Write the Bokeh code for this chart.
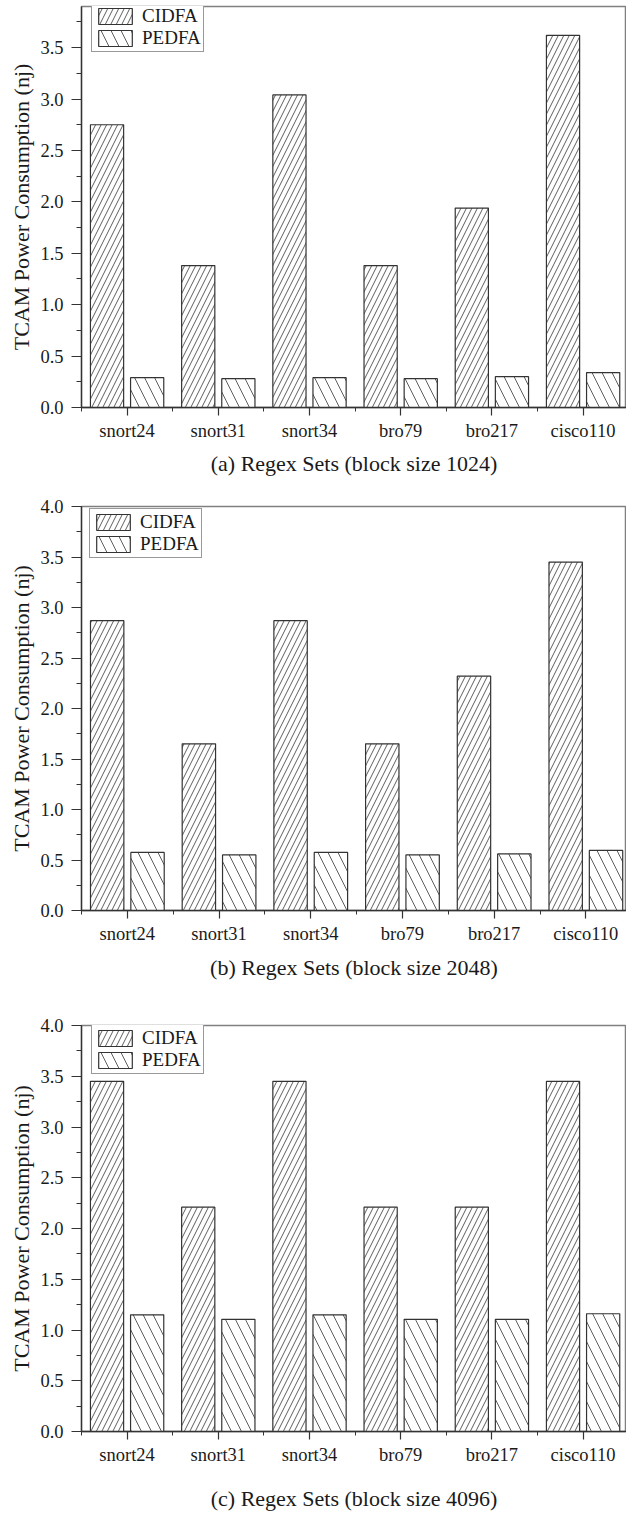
from bokeh.plotting import figure
from bokeh.models import (FixedTicker, SingleIntervalTicker, PrintfTickFormatter,
                          Range1d, Legend, LegendItem, ColumnDataSource)
from bokeh.layouts import column
from bokeh.embed import file_html
from bokeh.resources import INLINE
from bokeh.transform import dodge

categories = ["snort24", "snort31", "snort34", "bro79", "bro217", "cisco110"]
series_names = ["CIDFA", "PEDFA"]

cidfa_1024 = [2.75, 1.38, 3.04, 1.38, 1.94, 3.62]
pedfa_1024 = [0.29, 0.28, 0.29, 0.28, 0.30, 0.34]
cidfa_2048 = [2.87, 1.65, 2.87, 1.65, 2.32, 3.45]
pedfa_2048 = [0.575, 0.55, 0.575, 0.55, 0.56, 0.595]
cidfa_4096 = [3.45, 2.21, 3.45, 2.21, 2.21, 3.45]
pedfa_4096 = [1.15, 1.105, 1.15, 1.105, 1.105, 1.16]

captions = ["(a) Regex Sets (block size 1024)",
            "(b) Regex Sets (block size 2048)",
            "(c) Regex Sets (block size 4096)"]
y_label = "TCAM Power Consumption (nj)"
y_max = [3.9, 4.0, 4.0]

FONT = "'Liberation Serif', 'Times New Roman', serif"
DARK = "#333333"

# layout: (height, border_left, border_top, border_bottom, legend_left, legend_top, caption_standoff)
layouts = [
    (488, 78, 6, 81, 10, 0, 7),
    (512, 81, 18, 90, 8, 6, 8),
    (513, 78, 25, 81, 10, 4, 18),
]
PX_PER_CAT = 91.7
WIDTH = 626
LEGEND_H = 46


def make_panel(cidfa, pedfa, caption, ymax, lay):
    height, bl, bt, bb, lg_left, lg_top, cap_sd = lay
    frame_w = WIDTH - bl
    frame_h = height - bt - bb
    xs = [i + 1 for i in range(len(categories))]
    src = ColumnDataSource(dict(x=xs, cidfa=cidfa, pedfa=pedfa, cat=categories))
    p = figure(width=WIDTH, height=height,
               x_range=Range1d(0.5, 0.5 + frame_w / PX_PER_CAT),
               y_range=Range1d(0, ymax),
               output_backend="svg", toolbar_location=None,
               min_border_left=bl, min_border_right=0,
               min_border_top=bt, min_border_bottom=bb)
    p.xgrid.visible = False
    p.ygrid.visible = False
    p.outline_line_color = "#808080"
    p.outline_line_width = 1.5
    p.background_fill_color = "white"

    r1 = p.vbar(x=dodge("x", -0.22), top="cidfa", width=0.364, bottom=0, source=src,
                fill_color="white", line_color=DARK, line_width=1.2,
                hatch_pattern="/", hatch_scale=11, hatch_weight=0.8, hatch_color=DARK)
    r2 = p.vbar(x=dodge("x", 0.22), top="pedfa", width=0.364, bottom=0, source=src,
                fill_color="white", line_color=DARK, line_width=1.2,
                hatch_pattern="\\", hatch_scale=20, hatch_weight=0.8, hatch_color=DARK)

    # x axis
    xa = p.xaxis[0]
    xa.ticker = FixedTicker(ticks=xs, minor_ticks=[x - 0.5 for x in xs] + [xs[-1] + 0.5])
    xa.major_label_overrides = {x: c for x, c in zip(xs, categories)}
    xa.major_tick_out = 8
    xa.major_tick_in = 0
    xa.minor_tick_out = 4
    xa.minor_tick_in = 0
    xa.major_label_standoff = 5
    xa.axis_label = caption
    xa.axis_label_standoff = cap_sd

    # y axis
    ya = p.yaxis[0]
    ya.ticker = SingleIntervalTicker(interval=0.5, num_minor_ticks=2)
    ya.formatter = PrintfTickFormatter(format="%.1f")
    ya.major_tick_out = 10
    ya.major_tick_in = 0
    ya.minor_tick_out = 5
    ya.minor_tick_in = 0
    ya.major_label_standoff = 8
    ya.axis_label = y_label
    ya.axis_label_standoff = 3

    for ax in (xa, ya):
        ax.axis_line_color = DARK
        ax.axis_line_width = 1.3
        ax.major_tick_line_color = DARK
        ax.minor_tick_line_color = DARK
        ax.major_tick_line_width = 1.2
        ax.minor_tick_line_width = 1.0
        ax.major_label_text_font = FONT
        ax.major_label_text_font_size = "18.5px"
        ax.major_label_text_color = "#1a1a1a"
        ax.axis_label_text_font = FONT
        ax.axis_label_text_font_size = "22px"
        ax.axis_label_text_font_style = "normal"
        ax.axis_label_text_color = "#1a1a1a"

    legend = Legend(items=[LegendItem(label=series_names[0], renderers=[r1]),
                           LegendItem(label=series_names[1], renderers=[r2])],
                    location=(lg_left, frame_h - LEGEND_H - lg_top),
                    label_text_font=FONT, label_text_font_size="19px",
                    label_text_color="#1a1a1a",
                    glyph_width=42, glyph_height=20, label_height=20,
                    label_standoff=6, padding=2, spacing=0, margin=0,
                    border_line_color=DARK, border_line_width=1,
                    background_fill_color="white", background_fill_alpha=1)
    p.add_layout(legend)
    return p


panels = [
    make_panel(cidfa_1024, pedfa_1024, captions[0], y_max[0], layouts[0]),
    make_panel(cidfa_2048, pedfa_2048, captions[1], y_max[1], layouts[1]),
    make_panel(cidfa_4096, pedfa_4096, captions[2], y_max[2], layouts[2]),
]

layout = column(*panels, spacing=0)
open("out.html", "w").write(file_html(layout, INLINE))
